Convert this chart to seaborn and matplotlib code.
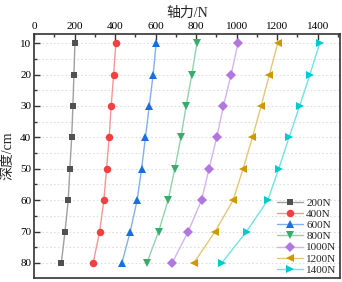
import pandas as pd
import matplotlib
matplotlib.use('Agg')
import matplotlib.pyplot as plt
import matplotlib.colors as mcolors
from matplotlib.ticker import MultipleLocator
import seaborn as sns

depth = [10, 20, 30, 40, 50, 60, 70, 80]
loads = ['200N', '400N', '600N', '800N', '1000N', '1200N', '1400N']
f200 = [202, 197, 192, 186, 177, 169, 153, 135]
f400 = [404, 393, 381, 371, 358, 345, 324, 292]
f600 = [603, 588, 569, 550, 531, 509, 475, 434]
f800 = [804, 779, 751, 725, 695, 662, 615, 557]
f1000 = [1007, 973, 935, 902, 864, 827, 761, 682]
f1200 = [1203, 1162, 1121, 1078, 1032, 983, 894, 789]
f1400 = [1410, 1362, 1311, 1259, 1208, 1154, 1049, 927]
series = [f200, f400, f600, f800, f1000, f1200, f1400]

colors = ['#515151', '#F14040', '#1A6FDF', '#37AD6B', '#B177DE', '#CC9900', '#00CBCC']
markers = ['s', 'o', '^', 'v', 'D', '<', '>']
msizes = [4.6, 5.4, 6.2, 6.2, 4.6, 6.2, 6.2]

rows = []
for name, vals in zip(loads, series):
    for d, v in zip(depth, vals):
        rows.append({'load': name, 'depth': d, 'force': v})
df = pd.DataFrame(rows)

sns.set_style('ticks')
serif = ['Liberation Serif', 'Noto Sans CJK SC']
plt.rcParams['font.family'] = serif

fig = plt.figure(figsize=(3.42, 2.82), dpi=100)
ax = fig.add_axes([0.0994, 0.0142, 0.8946, 0.8652])

sns.lineplot(data=df, x='force', y='depth', hue='load', style='load',
             hue_order=loads, style_order=loads, palette=colors,
             markers=dict(zip(loads, markers)), dashes=False,
             orient='y', sort=True, legend=False, ax=ax,
             linewidth=1.0, markersize=5, markeredgewidth=0)

def lighten(c, f=0.45):
    r, g, b = mcolors.to_rgb(c)
    return (r + (1 - r) * f, g + (1 - g) * f, b + (1 - b) * f)

for line, c, ms in zip(ax.lines, colors, msizes):
    line.set_markerfacecolor(c)
    line.set_markeredgecolor(c)
    line.set_markersize(ms)
    line.set_color(lighten(c))

ax.set_xlim(0, 1510)
ax.set_ylim(84.8, 7.1)
ax.xaxis.set_major_locator(MultipleLocator(200))
ax.xaxis.set_minor_locator(MultipleLocator(100))
ax.yaxis.set_major_locator(MultipleLocator(10))
ax.yaxis.set_minor_locator(MultipleLocator(5))
ax.xaxis.tick_top()
ax.xaxis.set_label_position('top')
ax.tick_params(which='both', direction='in', top=True, bottom=False,
               left=True, right=False, labelsize=8, colors='#333333',
               width=1, pad=2)
ax.tick_params(which='major', length=4)
ax.tick_params(which='minor', length=2)
ax.tick_params(axis='both', labelcolor='black')
ax.yaxis.grid(True, which='both', linestyle=(0, (1.5, 2)), color='#dedede', linewidth=0.8)
for s in ax.spines.values():
    s.set_linewidth(1.2)
    s.set_color('#333333')

ax.set_xlabel('轴力/N', fontsize=10, family=serif, labelpad=4)
ax.set_ylabel('深度/cm', fontsize=10, family=serif, labelpad=4)

ax.legend(ax.lines, loads, loc='lower right', frameon=False, fontsize=8,
          handlelength=2.3, handletextpad=0.3, labelspacing=0.12,
          borderaxespad=0.1, borderpad=0.2)

fig.savefig('out.png', dpi=100)
